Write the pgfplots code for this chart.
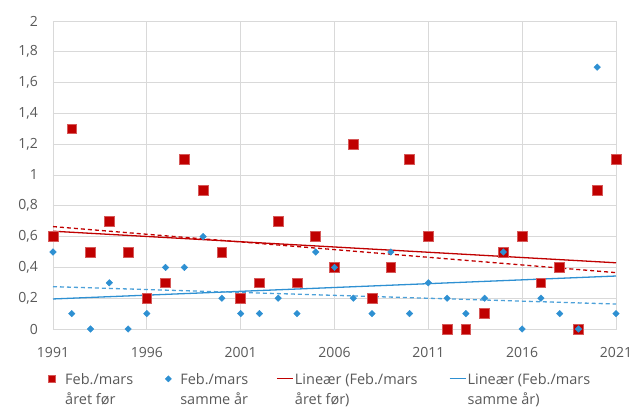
\documentclass[border=0pt]{standalone}
\usepackage{fontspec}
\setmainfont{Open Sans}
\usepackage{pgfplots}
\pgfplotsset{compat=1.18}

\definecolor{dred}{HTML}{C00000}
\definecolor{lblue}{HTML}{2E90D2}
\definecolor{gridc}{HTML}{D9D9D9}
\definecolor{txt}{HTML}{595959}

% legend images: box width, marker offset, marker size
\pgfplotsset{
    legmark/.style n args={3}{legend image code/.code={%
        \path[draw=none, fill=none] (0pt,-5pt) rectangle (#1pt,-6pt);
        \path[##1, draw=none, mark size=#3pt] plot[only marks] coordinates {(#2pt,-5.6pt)};}},
    legline/.style={legend image code/.code={%
        \path[draw=none, fill=none] (0pt,-5pt) rectangle (18pt,-6pt);
        \draw[##1] (0pt,-5.6pt) -- (16pt,-5.6pt);}},
}

\begin{document}
\begin{tikzpicture}[font=\fontsize{14.5}{20}\selectfont]
\begin{axis}[
    at={(53pt,81pt)}, anchor=south west,
    scale only axis,
    width=563pt, height=308pt,
    xmin=1991, xmax=2021,
    ymin=0, ymax=2,
    xtick={1991,1996,...,2021},
    ytick={0,0.2,...,2},
    xticklabel style={/pgf/number format/1000 sep={}, inner sep=0pt, anchor=north, yshift=-18pt},
    yticklabel style={/pgf/number format/use comma, /pgf/number format/fixed,
        inner sep=0pt, anchor=east, xshift=-15pt},
    /pgf/number format/assume math mode=true,
    ticklabel style={text=txt, font=\fontsize{14}{16}\selectfont},
    major tick length=0pt,
    grid=major,
    major grid style={gridc, line width=0.9pt},
    axis line style={gridc, line width=0.9pt},
    clip=false,
    legend columns=4,
    legend style={at={(-0.0089,-0.143)}, anchor=north west, draw=none, fill=none,
        inner sep=0pt, column sep=0pt, row sep=0pt,
        text=txt, nodes={inner sep=0pt}, cells={anchor=north west}},
]
% Feb./mars aaret foer
\addplot[only marks, mark=square*, mark size=4.9pt,
    mark options={fill=dred, draw=dred!65!white, line width=0.7pt},
    legmark={17}{4}{3.6}]
coordinates {
(1991,0.6)(1992,1.3)(1993,0.5)(1994,0.7)(1995,0.5)(1996,0.2)(1997,0.3)
(1998,1.1)(1999,0.9)(2000,0.5)(2001,0.2)(2002,0.3)(2003,0.7)(2004,0.3)
(2005,0.6)(2006,0.4)(2007,1.2)(2008,0.2)(2009,0.4)(2010,1.1)(2011,0.6)
(2012,0)(2013,0)(2014,0.1)(2015,0.5)(2016,0.6)(2017,0.3)(2018,0.4)
(2019,0)(2020,0.9)(2021,1.1)
};
\addlegendentry{\parbox[t]{100pt}{Feb./mars\\året før}}
% Feb./mars samme aar
\addplot[only marks, mark=square*, mark size=2.3pt,
    mark options={fill=lblue, draw=lblue, rotate=45},
    legmark={15}{3}{2.2}]
coordinates {
(1991,0.5)(1992,0.1)(1993,0)(1994,0.3)(1995,0)(1996,0.1)(1997,0.4)
(1998,0.4)(1999,0.6)(2000,0.2)(2001,0.1)(2002,0.1)(2003,0.2)(2004,0.1)
(2005,0.5)(2006,0.4)(2007,0.2)(2008,0.1)(2009,0.5)(2010,0.1)(2011,0.3)
(2012,0.2)(2013,0.1)(2014,0.2)(2015,0.5)(2016,0)(2017,0.2)(2018,0.1)
(2019,0)(2020,1.7)(2021,0.1)
};
\addlegendentry{\parbox[t]{96pt}{Feb./mars\\samme år}}
% linear trends
\addplot[dred, line width=1.3pt, legline] coordinates {(1991,0.635)(2021,0.43)};
\addlegendentry{\parbox[t]{154pt}{Lineær (Feb./mars\\året før)}}
\addplot[lblue, line width=1.3pt, legline] coordinates {(1991,0.195)(2021,0.344)};
\addlegendentry{\parbox[t]{131pt}{Lineær (Feb./mars\\samme år)}}
% dashed trends (not in legend)
\addplot[dred, line width=1.3pt, dash pattern=on 4pt off 3pt, forget plot]
    coordinates {(1991,0.665)(2021,0.366)};
\addplot[lblue!85!white, line width=1.3pt, dash pattern=on 4pt off 3pt, forget plot]
    coordinates {(1991,0.275)(2021,0.162)};
\end{axis}
\pgfresetboundingbox
\path (0pt,0pt) rectangle (633pt,410pt);
\end{tikzpicture}
\end{document}
